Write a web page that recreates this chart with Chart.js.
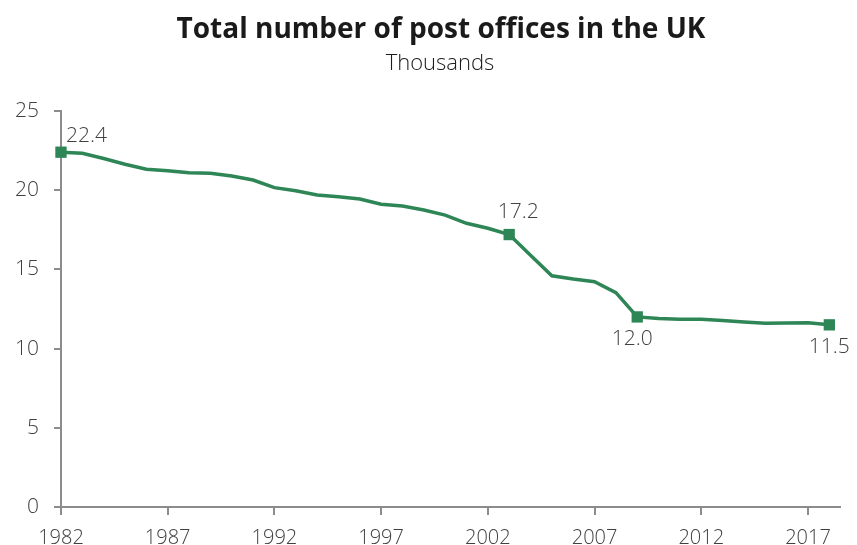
<!DOCTYPE html>
<html>
<head>
<meta charset="utf-8">
<script src="https://cdn.jsdelivr.net/npm/chart.js@4.4.1/dist/chart.umd.min.js"></script>
<style>
  html, body { margin: 0; padding: 0; background: #fff; }
  #wrap { width: 857px; height: 545px; position: relative; }
</style>
</head>
<body>
<div id="wrap"><canvas id="postChart"></canvas></div>
<script>
const years = [1982, 1983, 1984, 1985, 1986, 1987, 1988, 1989, 1990, 1991,
    1992, 1993, 1994, 1995, 1996, 1997, 1998, 1999, 2000, 2001,
    2002, 2003, 2004, 2005, 2006, 2007, 2008, 2009, 2010, 2011,
    2012, 2013, 2014, 2015, 2016, 2017, 2018];
const offices = [22.4, 22.33, 22.0, 21.64, 21.32, 21.23, 21.1, 21.07, 20.9, 20.64,
    20.16, 19.97, 19.7, 19.59, 19.44, 19.11, 19.0, 18.75, 18.43, 17.91,
    17.6, 17.2, 15.9, 14.6, 14.39, 14.22, 13.53, 12.0, 11.9, 11.85,
    11.85, 11.78, 11.68, 11.6, 11.62, 11.63, 11.5];
const xTicks = [1982, 1987, 1992, 1997, 2002, 2007, 2012, 2017];
const yTicks = [0, 5, 10, 15, 20, 25];
const chartTitle = "Total number of post offices in the UK";
const chartSubtitle = "Thousands";
// which years get a marker + label, and where the label sits
const labelled = { 1982: "right", 2003: "above", 2009: "below", 2018: "below" };

const green = "#2e8656";
const axisGrey = "#8c8c8c";
const textGrey = "#404040";
const font = "'Open Sans', 'Noto Sans', sans-serif";

const points = years.map((y, i) => ({ x: y, y: offices[i] }));

const pointLabels = {
    id: "pointLabels",
    afterDatasetsDraw(chart) {
        const ctx = chart.ctx;
        const meta = chart.getDatasetMeta(0);
        ctx.save();
        ctx.font = "300 21px " + font;
        ctx.fillStyle = textGrey;
        meta.data.forEach((el, i) => {
            const pos = labelled[years[i]];
            if (!pos) return;
            const txt = offices[i].toFixed(1);
            if (pos === "right") {
                ctx.textAlign = "left";
                ctx.textBaseline = "bottom";
                ctx.fillText(txt, el.x + 5, el.y - 6);
            } else if (pos === "above") {
                ctx.textAlign = "center";
                ctx.textBaseline = "bottom";
                ctx.fillText(txt, el.x + 9, el.y - 12);
            } else {
                ctx.textAlign = "center";
                ctx.textBaseline = "top";
                ctx.fillText(txt, el.x + (years[i] === 2009 ? -5 : 0), el.y + 12);
            }
        });
        ctx.restore();
    }
};

// title is drawn by hand so it can sit a bit right of the canvas centre like the original
const headings = {
    id: "headings",
    afterDraw(chart) {
        const ctx = chart.ctx;
        ctx.save();
        ctx.fillStyle = "#1a1a1a";
        ctx.textAlign = "center";
        ctx.textBaseline = "middle";
        ctx.font = "bold 28px " + font;
        ctx.fillText(chartTitle, 441, 30);
        ctx.font = "300 22px " + font;
        ctx.fillText(chartSubtitle, 440, 64);
        ctx.restore();
    }
};

new Chart(document.getElementById("postChart"), {
    type: "line",
    data: {
        datasets: [{
            data: points,
            borderColor: green,
            backgroundColor: green,
            borderWidth: 3.5,
            tension: 0,
            clip: false,
            pointStyle: "rect",
            pointRadius: years.map(y => labelled[y] ? 8 : 0),
            pointBorderWidth: 0,
            pointHoverRadius: 0
        }]
    },
    options: {
        responsive: true,
        maintainAspectRatio: false,
        animation: false,
        layout: { padding: { left: 0, right: 17, top: 111, bottom: 0 } },
        plugins: {
            legend: { display: false },
            tooltip: { enabled: false },
            title: { display: false }
        },
        scales: {
            x: {
                type: "linear",
                min: 1982,
                max: 2018.5,
                afterBuildTicks: axis => { axis.ticks = xTicks.map(v => ({ value: v })); },
                // labels sit low, touching the bottom edge, so pin the axis height
                afterFit: axis => { axis.height = 38; },
                border: { color: axisGrey, width: 2 },
                grid: { display: true, drawOnChartArea: false, color: axisGrey, lineWidth: 2, tickLength: 8 },
                ticks: {
                    color: textGrey,
                    font: { family: font, size: 20, weight: "300" },
                    padding: 11,
                    maxRotation: 0,
                    autoSkip: false,
                    callback: v => String(v)
                }
            },
            y: {
                min: 0,
                max: 25,
                afterBuildTicks: axis => { axis.ticks = yTicks.map(v => ({ value: v })); },
                border: { color: axisGrey, width: 2 },
                grid: { display: true, drawOnChartArea: false, color: axisGrey, lineWidth: 2, tickLength: 7 },
                ticks: {
                    color: textGrey,
                    font: { family: font, size: 21, weight: "300" },
                    padding: 15
                }
            }
        }
    },
    plugins: [pointLabels, headings]
});
</script>
</body>
</html>
